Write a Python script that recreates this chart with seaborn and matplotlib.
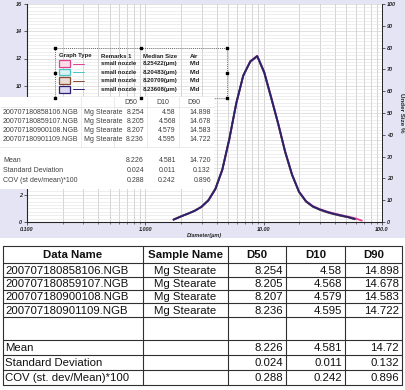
import numpy as np
import pandas as pd
import matplotlib
matplotlib.use("Agg")
import matplotlib.pyplot as plt
import seaborn as sns
from matplotlib.patches import Rectangle
from matplotlib.ticker import LogLocator, MultipleLocator, FixedLocator, NullFormatter

sns.set_style("white")
plt.rcParams['font.family'] = ['Liberation Sans', 'DejaVu Sans']

# ---- data ----
diameters = [1.73, 1.98, 2.27, 2.60, 2.98, 3.41, 3.91, 4.47, 5.12, 5.87, 6.72, 7.70, 8.82,
             10.10, 11.57, 13.25, 15.17, 17.38, 19.90, 22.80, 26.11, 29.90, 34.25, 39.23,
             44.93, 51.47, 58.95, 67.52]
freq_858106 = [0.17, 0.39, 0.59, 0.81, 1.10, 1.57, 2.40, 3.80, 6.02, 8.68, 10.72, 11.80, 12.20,
               11.05, 9.18, 7.28, 5.22, 3.50, 2.24, 1.54, 1.16, 0.94, 0.77, 0.63,
               0.51, 0.40, 0.28, 0.10]
freq_859107 = [0.18, 0.40, 0.60, 0.82, 1.12, 1.60, 2.45, 3.85, 6.10, 8.75, 10.75, 11.75, 12.15,
               10.95, 9.10, 7.20, 5.15, 3.45, 2.20, 1.50, 1.12, 0.90, 0.72, 0.58,
               0.46, 0.36, 0.21, np.nan]
freq_900108 = [0.18, 0.40, 0.60, 0.82, 1.12, 1.61, 2.46, 3.86, 6.09, 8.74, 10.76, 11.76, 12.16,
               10.96, 9.10, 7.19, 5.14, 3.44, 2.19, 1.49, 1.11, 0.89, 0.71, 0.57,
               0.45, 0.35, 0.20, np.nan]
freq_901109 = [0.17, 0.39, 0.60, 0.81, 1.11, 1.58, 2.42, 3.82, 6.06, 8.72, 10.74, 11.78, 12.18,
               11.00, 9.14, 7.24, 5.18, 3.47, 2.22, 1.52, 1.14, 0.92, 0.74, 0.60,
               0.48, 0.37, 0.22, np.nan]

data_names = ['200707180858106.NGB', '200707180859107.NGB',
              '200707180900108.NGB', '200707180901109.NGB']
sample_name = 'Mg Stearate'
remarks = 'small nozzle'
median_size = ['8.25422(\u00b5m)', '8.20483(\u00b5m)', '8.20709(\u00b5m)', '8.23608(\u00b5m)']
air = 'Mid'
d50 = ['8.254', '8.205', '8.207', '8.236']
d10 = ['4.58', '4.568', '4.579', '4.595']
d90 = ['14.898', '14.678', '14.583', '14.722']
stat_names = ['Mean', 'Standard Deviation', 'COV (st. dev/Mean)*100']
stat_names_chart = ['Mean', 'Standard Deviation', 'COV (st dev/mean)*100']
stat_d50 = ['8.226', '0.024', '0.288']
stat_d10 = ['4.581', '0.011', '0.242']
stat_d90 = ['14.72', '0.132', '0.896']
stat_d90_chart = ['14.720', '0.132', '0.896']
y_left_labels = ['0', '2', '', '', '', '10', '12', '14', '16']

line_colors = ['#e0408c', '#48c4c4', '#8a4a34', '#2c1f72']
box_fill = ['#fbdde9', '#d8f2f2', '#eadbd4', '#dcdaf0']

rows = []
for name, vals in zip(data_names, [freq_858106, freq_859107, freq_900108, freq_901109]):
    for d, v in zip(diameters, vals):
        rows.append({'sample': name, 'diameter': d, 'freq': v})
df = pd.DataFrame(rows).dropna()

# ---- figure ----
W, H = 406, 390
fig = plt.figure(figsize=(W / 100, H / 100), dpi=100)
fig.patch.set_facecolor('white')


def box(x0, y0, x1, y1):
    return [x0 / W, 1 - y1 / H, (x1 - x0) / W, (y1 - y0) / H]


# lavender panel behind the chart
bg = fig.add_axes([0, 0, 1, 1], zorder=-5)
bg.set_xlim(0, W)
bg.set_ylim(H, 0)
bg.axis('off')
bg.add_patch(Rectangle((0, 0), W, 238, facecolor='#e4e4f4', edgecolor='none'))

ax = fig.add_axes(box(27, 4, 382, 222))
ax.set_facecolor('white')
sns.lineplot(data=df, x='diameter', y='freq', hue='sample', palette=line_colors,
             ax=ax, legend=False, linewidth=1.3, sort=True)
ax.set_xscale('log')
ax.set_xlim(0.1, 100)
ax.set_ylim(0, 16)
ax.xaxis.set_major_locator(FixedLocator([0.1, 1, 10, 100]))
ax.xaxis.set_minor_locator(LogLocator(base=10, subs=range(2, 10)))
ax.xaxis.set_minor_formatter(NullFormatter())
ax.set_xticklabels(['0.100', '1.000', '10.00', '100.0'])
ax.yaxis.set_major_locator(FixedLocator([0, 2, 4, 6, 8, 10, 12, 14, 16]))
ax.set_yticklabels(y_left_labels)
ax.yaxis.set_minor_locator(MultipleLocator(0.25))
ax.grid(which='both', axis='x', color='#c4c4c4', linewidth=0.5)
ax.grid(which='major', axis='y', color='#d4d4d4', linewidth=0.5)
ax.grid(which='minor', axis='y', color='#e2e2e2', linewidth=0.4)
ax.tick_params(axis='both', which='major', labelsize=4, length=2, width=0.5, pad=1.5,
               left=True, bottom=True)
ax.tick_params(axis='x', which='minor', length=1.5, width=0.4, bottom=True)
ax.tick_params(axis='y', which='minor', length=0)
for lab in ax.get_xticklabels() + ax.get_yticklabels():
    lab.set_fontweight('bold')
    lab.set_fontstyle('italic')
ax.set_xlabel('Diameter(\u00b5m)', fontsize=4, fontweight='bold', fontstyle='italic', labelpad=1)
ax.set_ylabel('')
for s in ['left', 'bottom', 'right']:
    ax.spines[s].set_color('#202020')
    ax.spines[s].set_linewidth(0.6)
ax.spines['top'].set_visible(False)

ax2 = ax.twinx()
ax2.set_ylim(0, 100)
ax2.yaxis.set_major_locator(MultipleLocator(10))
ax2.tick_params(axis='y', labelsize=4, length=2, width=0.5, pad=1.5, right=True)
for lab in ax2.get_yticklabels():
    lab.set_fontweight('bold')
    lab.set_fontstyle('italic')
ax2.set_ylabel('Under Size %', fontsize=4.5, fontweight='bold', rotation=270, labelpad=6)
ax2.spines['top'].set_visible(False)
ax2.spines['right'].set_linewidth(0.6)
ax2.grid(False)

# ---- overlays (pixel coordinates) ----
ov = fig.add_axes([0, 0, 1, 1], zorder=5)
ov.set_xlim(0, W)
ov.set_ylim(H, 0)
ov.axis('off')
ov.patch.set_alpha(0)

# legend block
ov.add_patch(Rectangle((55, 48), 172, 50, facecolor='none', edgecolor='#404040',
                       linestyle=(0, (1, 1.5)), linewidth=0.6))
hx = [55, 141, 227, 55, 227, 55, 141, 227]
hy = [48, 48, 48, 73, 73, 98, 98, 98]
ov.scatter(hx, hy, marker='s', s=2.5, color='black', zorder=6)
lkw = dict(fontsize=4.3, fontweight='bold', color='#202020', va='center')
ov.text(59, 56, 'Graph Type', **lkw)
ov.text(101, 56, 'Remarks 1', **lkw)
ov.text(143, 56, 'Median Size', **lkw)
ov.text(190, 56, 'Air', **lkw)
for i, (c, fc, med) in enumerate(zip(line_colors, box_fill, median_size)):
    yy = 63.5 + i * 8.6
    ov.add_patch(Rectangle((59, yy - 3.3), 11, 6.6, facecolor=fc, edgecolor=c, linewidth=0.9))
    ov.plot([73, 84], [yy, yy], color=c, linewidth=0.7)
    ov.text(101, yy, remarks, **lkw)
    ov.text(143, yy, med, **lkw)
    ov.text(190, yy, air, **lkw)

# small table inside the chart
ov.add_patch(Rectangle((0, 97), 214, 92, facecolor='white', edgecolor='none'))
tkw = dict(fontsize=5, color='#404040', va='center')
for xv in [81, 114, 147, 179]:
    ov.plot([xv, xv], [97, 147], color='#dcdcdc', linewidth=0.4)
ov.plot([0, 214], [106.5, 106.5], color='#dcdcdc', linewidth=0.4)
ov.plot([0, 214], [147, 147], color='#dcdcdc', linewidth=0.4)
ov.text(131, 102, 'D50', ha='center', **tkw)
ov.text(163, 102, 'D10', ha='center', **tkw)
ov.text(194, 102, 'D90', ha='center', **tkw)
for i in range(4):
    yy = 113 + i * 8.7
    ov.text(3, yy, data_names[i], ha='left', **tkw)
    ov.text(84, yy, sample_name, ha='left', **tkw)
    ov.text(144, yy, d50[i], ha='right', **tkw)
    ov.text(176, yy, d10[i], ha='right', **tkw)
    ov.text(211, yy, d90[i], ha='right', **tkw)
for i in range(3):
    yy = 160 + i * 10.5
    ov.text(3, yy, stat_names_chart[i], ha='left', **tkw)
    ov.text(144, yy, stat_d50[i], ha='right', **tkw)
    ov.text(176, yy, stat_d10[i], ha='right', **tkw)
    ov.text(211, yy, stat_d90_chart[i], ha='right', **tkw)

# bottom table
cols = [3, 143, 228, 286, 345, 402]
rlines = [246, 263, 277, 290, 303, 317, 340, 355, 370, 385]
for yv in rlines:
    ov.plot([cols[0], cols[-1]], [yv, yv], color='#303030', linewidth=0.8)
for xv in cols:
    ov.plot([xv, xv], [rlines[0], rlines[-1]], color='#303030', linewidth=0.8)
bkw = dict(fontsize=8.2, color='#101010', va='center')
headers = ['Data Name', 'Sample Name', 'D50', 'D10', 'D90']
for j, h in enumerate(headers):
    ov.text((cols[j] + cols[j + 1]) / 2, (rlines[0] + rlines[1]) / 2 + 0.5, h,
            ha='center', fontweight='bold', **bkw)
for i in range(4):
    yy = (rlines[i + 1] + rlines[i + 2]) / 2 + 0.5
    ov.text(cols[0] + 2, yy, data_names[i], ha='left', **bkw)
    ov.text((cols[1] + cols[2]) / 2, yy, sample_name, ha='center', **bkw)
    ov.text(cols[3] - 3, yy, d50[i], ha='right', **bkw)
    ov.text(cols[4] - 3, yy, d10[i], ha='right', **bkw)
    ov.text(cols[5] - 3, yy, d90[i], ha='right', **bkw)
for i in range(3):
    yy = (rlines[i + 6] + rlines[i + 7]) / 2 + 0.5
    ov.text(cols[0] + 2, yy, stat_names[i], ha='left', **bkw)
    ov.text(cols[3] - 3, yy, stat_d50[i], ha='right', **bkw)
    ov.text(cols[4] - 3, yy, stat_d10[i], ha='right', **bkw)
    ov.text(cols[5] - 3, yy, stat_d90[i], ha='right', **bkw)

fig.savefig('out.png', dpi=100)
